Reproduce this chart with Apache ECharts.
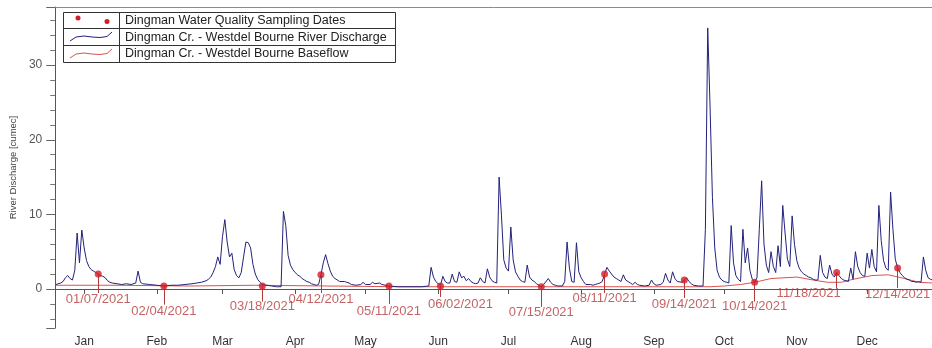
<!DOCTYPE html>
<html><head><meta charset="utf-8">
<script src="https://cdn.jsdelivr.net/npm/echarts@6/dist/echarts.min.js"></script>
<style>html,body{margin:0;padding:0;background:#fff}#c{width:932px;height:348px}</style>
</head><body><div id="c"></div>
<script>
// ---- data ----
const monthLabels = ['Jan','Feb','Mar','Apr','May','Jun','Jul','Aug','Sep','Oct','Nov','Dec'];
const yTickLabels = [0, 10, 20, 30];
const discharge = [
['2020-12-20',0.6],['2020-12-22',0.8],['2020-12-23',1.0],['2020-12-24',1.5],['2020-12-25',1.8],['2020-12-26',1.4],['2020-12-27',1.2],['2020-12-28',2.5],['2020-12-29',7.5],['2020-12-30',3.5],['2020-12-31',7.9],
['2021-01-01',5.5],['2021-01-02',3.8],['2021-01-03',3.0],['2021-01-04',2.6],['2021-01-05',2.4],['2021-01-06',2.2],['2021-01-07',2.0],['2021-01-08',1.8],['2021-01-09',1.7],['2021-01-10',1.5],['2021-01-11',1.1],['2021-01-12',0.9],['2021-01-13',0.8],['2021-01-15',0.7],['2021-01-17',0.6],['2021-01-19',0.7],['2021-01-21',0.6],['2021-01-23',0.8],['2021-01-24',2.4],['2021-01-25',0.9],['2021-01-26',0.7],['2021-01-29',0.6],
['2021-02-01',0.5],['2021-02-04',0.4],['2021-02-07',0.5],['2021-02-10',0.5],['2021-02-13',0.6],['2021-02-16',0.7],['2021-02-18',0.8],['2021-02-20',0.9],['2021-02-22',1.1],['2021-02-23',1.3],['2021-02-24',1.6],['2021-02-25',2.2],['2021-02-26',3.0],['2021-02-27',4.3],['2021-02-28',3.3],
['2021-03-01',7.0],['2021-03-02',9.3],['2021-03-03',6.3],['2021-03-04',4.3],['2021-03-05',4.8],['2021-03-06',2.6],['2021-03-07',1.8],['2021-03-08',1.5],['2021-03-09',2.2],['2021-03-10',4.3],['2021-03-11',6.3],['2021-03-12',6.2],['2021-03-13',5.5],['2021-03-14',3.3],['2021-03-15',2.0],['2021-03-16',1.3],['2021-03-17',0.9],['2021-03-18',0.6],['2021-03-20',0.5],['2021-03-22',0.4],['2021-03-24',0.3],['2021-03-26',0.3],['2021-03-27',10.4],['2021-03-28',8.5],['2021-03-29',4.5],['2021-03-30',3.2],['2021-03-31',2.6],
['2021-04-01',2.2],['2021-04-02',1.9],['2021-04-03',1.7],['2021-04-04',1.4],['2021-04-05',1.2],['2021-04-06',1.0],['2021-04-07',0.9],['2021-04-08',0.7],['2021-04-09',0.6],['2021-04-10',0.5],['2021-04-11',0.6],['2021-04-12',1.9],['2021-04-13',3.5],['2021-04-14',4.6],['2021-04-15',3.4],['2021-04-16',2.4],['2021-04-17',1.7],['2021-04-18',1.4],['2021-04-19',1.2],['2021-04-20',1.0],['2021-04-22',1.0],['2021-04-23',0.9],['2021-04-24',0.8],['2021-04-25',0.6],['2021-04-27',0.5],['2021-04-29',0.6],['2021-04-30',0.9],
['2021-05-01',0.6],['2021-05-03',0.6],['2021-05-04',0.9],['2021-05-05',0.7],['2021-05-07',0.8],['2021-05-08',0.6],['2021-05-11',0.4],['2021-05-15',0.3],['2021-05-20',0.3],['2021-05-25',0.3],['2021-05-28',0.4],['2021-05-29',2.9],['2021-05-30',1.6],['2021-05-31',1.0],
['2021-06-01',0.7],['2021-06-02',0.5],['2021-06-03',1.7],['2021-06-04',1.0],['2021-06-05',0.8],['2021-06-06',0.8],['2021-06-07',2.0],['2021-06-08',1.0],['2021-06-09',0.9],['2021-06-10',2.3],['2021-06-11',1.5],['2021-06-12',1.7],['2021-06-13',1.1],['2021-06-14',1.4],['2021-06-15',1.0],['2021-06-16',0.8],['2021-06-17',0.7],['2021-06-18',0.8],['2021-06-19',1.5],['2021-06-20',1.0],['2021-06-21',0.8],['2021-06-22',2.7],['2021-06-23',1.6],['2021-06-24',1.1],['2021-06-25',0.9],['2021-06-26',0.8],['2021-06-27',15.0],['2021-06-28',9.9],['2021-06-29',3.9],['2021-06-30',2.8],
['2021-07-01',2.4],['2021-07-02',8.3],['2021-07-03',3.9],['2021-07-04',2.3],['2021-07-05',1.7],['2021-07-06',1.2],['2021-07-07',1.0],['2021-07-08',0.9],['2021-07-09',3.2],['2021-07-10',1.6],['2021-07-11',1.2],['2021-07-12',1.0],['2021-07-13',0.7],['2021-07-14',0.5],['2021-07-15',0.3],['2021-07-16',0.6],['2021-07-18',1.4],['2021-07-19',0.9],['2021-07-20',0.6],['2021-07-21',0.5],['2021-07-22',0.4],['2021-07-24',0.4],['2021-07-25',1.0],['2021-07-26',6.3],['2021-07-27',2.8],['2021-07-28',1.0],['2021-07-29',0.9],['2021-07-30',6.2],['2021-07-31',2.3],
['2021-08-01',1.5],['2021-08-02',1.0],['2021-08-03',0.6],['2021-08-05',0.6],['2021-08-06',0.5],['2021-08-07',0.6],['2021-08-08',0.7],['2021-08-09',0.8],['2021-08-10',1.0],['2021-08-11',2.0],['2021-08-12',2.9],['2021-08-13',2.4],['2021-08-14',2.0],['2021-08-15',1.6],['2021-08-16',1.4],['2021-08-17',1.2],['2021-08-18',1.0],['2021-08-19',1.9],['2021-08-20',1.2],['2021-08-21',1.0],['2021-08-22',0.8],['2021-08-23',0.6],['2021-08-24',0.9],['2021-08-25',0.6],['2021-08-26',0.5],['2021-08-28',0.4],['2021-08-30',0.5],['2021-08-31',1.2],
['2021-09-01',0.7],['2021-09-02',0.5],['2021-09-04',0.6],['2021-09-05',0.9],['2021-09-06',2.1],['2021-09-07',1.2],['2021-09-08',0.8],['2021-09-09',2.3],['2021-09-10',1.4],['2021-09-11',1.0],['2021-09-13',0.9],['2021-09-14',1.2],['2021-09-15',1.5],['2021-09-16',1.0],['2021-09-17',0.7],['2021-09-18',0.5],['2021-09-20',0.4],['2021-09-22',0.4],['2021-09-23',8.0],['2021-09-24',35.0],['2021-09-25',24.4],['2021-09-26',12.3],['2021-09-27',5.5],['2021-09-28',2.5],['2021-09-29',1.6],['2021-09-30',1.2],
['2021-10-01',1.0],['2021-10-02',0.9],['2021-10-03',0.8],['2021-10-04',8.5],['2021-10-05',3.5],['2021-10-06',1.8],['2021-10-07',1.3],['2021-10-08',1.0],['2021-10-09',8.0],['2021-10-10',3.5],['2021-10-11',5.5],['2021-10-12',2.5],['2021-10-13',1.3],['2021-10-14',0.9],['2021-10-15',1.5],['2021-10-16',8.0],['2021-10-17',14.5],['2021-10-18',6.0],['2021-10-19',3.2],['2021-10-20',2.2],['2021-10-21',5.0],['2021-10-22',3.0],['2021-10-23',2.2],['2021-10-24',5.8],['2021-10-25',3.0],['2021-10-26',11.2],['2021-10-27',7.5],['2021-10-28',4.0],['2021-10-29',3.0],['2021-10-30',9.8],['2021-10-31',6.0],
['2021-11-01',3.8],['2021-11-02',2.8],['2021-11-03',2.3],['2021-11-04',2.0],['2021-11-05',1.8],['2021-11-06',1.6],['2021-11-07',1.5],['2021-11-08',1.3],['2021-11-09',1.2],['2021-11-10',1.2],['2021-11-11',4.5],['2021-11-12',2.2],['2021-11-13',1.6],['2021-11-14',1.4],['2021-11-15',3.2],['2021-11-16',2.0],['2021-11-17',1.6],['2021-11-18',2.2],['2021-11-19',1.8],['2021-11-20',1.4],['2021-11-21',1.2],['2021-11-22',1.1],['2021-11-23',1.0],['2021-11-24',2.8],['2021-11-25',1.3],['2021-11-26',5.0],['2021-11-27',3.0],['2021-11-28',2.2],['2021-11-29',1.8],['2021-11-30',1.7],
['2021-12-01',4.8],['2021-12-02',2.8],['2021-12-03',5.3],['2021-12-04',3.0],['2021-12-05',2.3],['2021-12-06',11.2],['2021-12-07',6.5],['2021-12-08',3.8],['2021-12-09',2.8],['2021-12-10',2.5],['2021-12-11',13.0],['2021-12-12',8.0],['2021-12-13',4.0],['2021-12-14',2.8],['2021-12-15',2.2],['2021-12-16',1.8],['2021-12-17',1.5],['2021-12-18',1.3],['2021-12-19',1.2],['2021-12-20',1.0],['2021-12-21',1.0],['2021-12-22',0.9],['2021-12-23',1.0],['2021-12-24',0.9],['2021-12-25',4.3],['2021-12-26',2.5],['2021-12-27',1.5],['2021-12-28',1.3],['2021-12-29',1.2]
];
const baseflow = [
['2020-12-20',0.5],['2021-01-15',0.5],['2021-02-15',0.4],['2021-03-15',0.5],['2021-04-15',0.4],['2021-05-15',0.3],['2021-06-15',0.3],['2021-07-15',0.3],['2021-08-15',0.3],['2021-09-15',0.3],['2021-09-25',0.3],['2021-10-01',0.4],['2021-10-08',0.6],['2021-10-14',0.9],['2021-10-21',1.4],['2021-11-01',1.6],['2021-11-08',1.2],['2021-11-14',0.9],['2021-11-20',0.9],['2021-11-25',1.3],['2021-12-03',1.8],['2021-12-10',1.9],['2021-12-17',1.4],['2021-12-23',0.9],['2021-12-29',0.8]
];
const sampleDates = ['2021-01-07','2021-02-04','2021-03-18','2021-04-12','2021-05-11','2021-06-02','2021-07-15','2021-08-11','2021-09-14','2021-10-14','2021-11-18','2021-12-14'];
const sampleValues = [2.0, 0.4, 0.4, 1.9, 0.4, 0.4, 0.3, 2.0, 1.2, 0.9, 2.2, 2.8];
const seriesNames = ['Dingman Water Quality Sampling Dates','Dingman Cr. - Westdel Bourne River Discharge','Dingman Cr. - Westdel Bourne Baseflow'];

// ---- layout (annotation placement, in axis units / px offsets) ----
const leaderEnd = [-0.54, -2.1, -1.7, -0.54, -2.0, -1.07, -2.4, -0.54, -1.2, -1.7, 0.13, 0.13];
const labelY    = [-1.34, -2.95, -2.4, -1.34, -2.95, -2.1, -3.2, -1.2, -2.1, -2.4, -0.54, -0.67];
const labelDx   = [0, 0, 0, 0, 0, 20, 0, 0, 0, 0, -28, 0];

function fmtDate(s){ const p = s.split('-'); return p[1] + '/' + p[2] + '/' + p[0]; }

const FONT = 'Liberation Sans, Arial, sans-serif';
const chart = echarts.init(document.getElementById('c'), null, {renderer:'canvas'});
const DAY = 86400000;
const X_MIN = '2020-12-19T16:00:00', X_MAX = '2021-12-28T16:00:00';

const option = {
  animation: false,
  grid: {left: 53, right: 0, top: 7, bottom: 20, show: false},
  xAxis: [{
    type: 'time', min: X_MIN, max: X_MAX,
    splitNumber: 12, minInterval: 28*DAY, maxInterval: 31*DAY,
    axisLine: {show: true, lineStyle: {color: '#555', width: 1}},
    axisTick: {show: true, length: 5, lineStyle: {color: '#555'}},
    axisLabel: {formatter: (v) => monthLabels[new Date(v).getMonth()], color: '#333', fontSize: 12, fontFamily: FONT, margin: 8, hideOverlap: true},
    splitLine: {show: false}
  }, {
    type: 'time', min: X_MIN, max: X_MAX, position: 'top',
    axisLine: {show: true, lineStyle: {color: '#8a8a8a', width: 1}},
    axisTick: {show: false}, axisLabel: {show: false}, splitLine: {show: false}
  }],
  yAxis: {
    type: 'value', min: -5.23, max: 37.8, splitNumber: 5,
    name: 'River Discharge [cumec]', nameLocation: 'middle', nameRotate: 90, nameGap: 34,
    nameTextStyle: {color: '#444', fontSize: 9.5, fontFamily: FONT},
    axisLine: {show: true, lineStyle: {color: '#555', width: 1}},
    axisTick: {show: true, length: 9, lineStyle: {color: '#666'}},
    minorTick: {show: true, splitNumber: 5, length: 5, lineStyle: {color: '#777'}},
    axisLabel: {formatter: (v) => yTickLabels.indexOf(Math.round(v*1000)/1000) >= 0 ? String(Math.round(v)) : '', color: '#555', fontSize: 12, fontFamily: FONT, margin: 13},
    splitLine: {show: false}
  },
  series: [
    {name: seriesNames[2], type: 'line', data: baseflow, showSymbol: false, lineStyle: {color: '#d9534f', width: 1}, z: 2, silent: true},
    {name: seriesNames[1], type: 'line', data: discharge, showSymbol: false, lineStyle: {color: '#22227a', width: 1}, z: 3, silent: true},
    {name: seriesNames[0], type: 'scatter', z: 5, symbolSize: 7, itemStyle: {color: '#d41c24'},
     data: sampleDates.map((d, i) => [d, sampleValues[i]]),
     markLine: {silent: true, symbol: ['none','none'], label: {show: false}, lineStyle: {color: '#b23a3a', type: 'solid', width: 1},
       data: sampleDates.map((d, i) => [{coord: [d, sampleValues[i]]}, {coord: [d, leaderEnd[i]]}])}
    },
    {type: 'scatter', z: 6, symbolSize: 0, silent: true,
     data: sampleDates.map((d, i) => ({value: [d, labelY[i]], name: fmtDate(d), label: {offset: [labelDx[i], 0]}})),
     label: {show: true, position: 'inside', formatter: (p) => p.name, color: '#b43c3c', fontSize: 13, fontFamily: FONT}
    }
  ],
  graphic: [
    {type: 'rect', shape: {x: 63.5, y: 12.5, width: 332, height: 50}, style: {fill: '#fff', stroke: '#333', lineWidth: 1}, z: 10},
    {type: 'line', shape: {x1: 63.5, y1: 28.5, x2: 395.5, y2: 28.5}, style: {stroke: '#333', lineWidth: 1}, z: 11},
    {type: 'line', shape: {x1: 63.5, y1: 45.5, x2: 395.5, y2: 45.5}, style: {stroke: '#333', lineWidth: 1}, z: 11},
    {type: 'line', shape: {x1: 119.5, y1: 12.5, x2: 119.5, y2: 62.5}, style: {stroke: '#333', lineWidth: 1}, z: 11},
    {type: 'circle', shape: {cx: 78, cy: 18, r: 2.5}, style: {fill: '#d41c24'}, z: 11},
    {type: 'circle', shape: {cx: 107, cy: 21.5, r: 2.5}, style: {fill: '#d41c24'}, z: 11},
    {type: 'polyline', shape: {points: [[70,41],[76,37],[84,36],[92,37],[100,37.5],[107,36.5],[112,32]]}, style: {stroke: '#22227a', lineWidth: 1, fill: null}, z: 11},
    {type: 'polyline', shape: {points: [[70,58],[76,54],[84,53],[92,54],[100,54.5],[107,53.5],[112,49]]}, style: {stroke: '#d9534f', lineWidth: 1, fill: null}, z: 11},
    {type: 'text', x: 125, y: 20.5, style: {text: seriesNames[0], fill: '#222', font: '12.5px ' + FONT, textVerticalAlign: 'middle'}, z: 11},
    {type: 'text', x: 125, y: 37.5, style: {text: seriesNames[1], fill: '#222', font: '12.5px ' + FONT, textVerticalAlign: 'middle'}, z: 11},
    {type: 'text', x: 125, y: 54, style: {text: seriesNames[2], fill: '#222', font: '12.5px ' + FONT, textVerticalAlign: 'middle'}, z: 11}
  ]
};
chart.setOption(option);
</script>
</body></html>
